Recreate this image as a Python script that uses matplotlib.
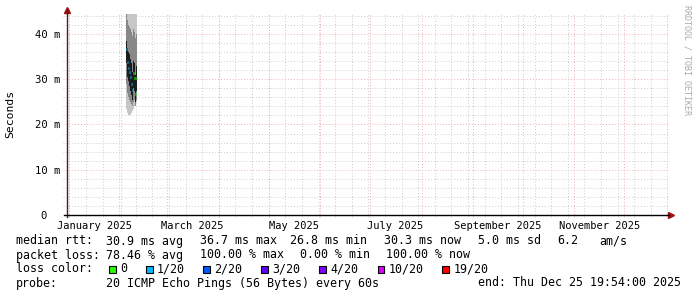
import datetime as dt
import numpy as np
import matplotlib
matplotlib.use('Agg')
import matplotlib.pyplot as plt
from matplotlib.patches import Rectangle

# --- data (12 h consolidated steps, values in ms) ---
times = ['2025-02-04 00:00', '2025-02-04 12:00', '2025-02-05 00:00', '2025-02-05 12:00',
         '2025-02-06 00:00', '2025-02-06 12:00', '2025-02-07 00:00', '2025-02-07 12:00',
         '2025-02-08 00:00', '2025-02-08 12:00', '2025-02-09 00:00', '2025-02-09 12:00',
         '2025-02-10 00:00']
median = [36.7, 35.0, 33.8, 32.5, 31.6, 30.5, 29.0, 28.3, 27.6, 31.3, 30.2, 26.8, 30.3]
loss = [1, 1, 1, 1, 1, 1, 1, 2, 1, 0, 0, 0, 0]
outer_lo = [23.5, 23.0, 22.5, 22.0, 22.0, 22.0, 22.5, 22.5, 23.0, 23.5, 24.0, 24.5, 25.0]
outer_hi = [47.5, 48.0, 47.0, 48.5, 47.0, 46.5, 47.5, 48.0, 46.5, 47.0, 48.0, 47.0, 46.0]
mid_lo = [29.0, 28.0, 27.0, 26.0, 25.5, 25.0, 24.5, 24.0, 24.0, 25.0, 25.5, 24.0, 25.5]
mid_hi = [44.5, 43.5, 43.0, 42.0, 41.5, 41.0, 40.5, 40.0, 39.5, 41.0, 40.5, 39.0, 40.0]
inner_lo = [33.5, 32.0, 30.5, 29.5, 28.5, 27.5, 26.5, 26.0, 25.5, 28.0, 27.5, 25.0, 27.5]
inner_hi = [38.5, 37.5, 37.0, 36.0, 35.5, 34.5, 33.5, 32.5, 31.5, 34.0, 33.5, 31.0, 33.0]

rtt_stats = [30.9, 36.7, 26.8, 30.3]      # avg max min now
rtt_sd = 5.0
rtt_ams = 6.2
loss_stats = [78.46, 100.00, 0.00, 100.00]  # avg max min now
loss_labels = ['0', '1/20', '2/20', '3/20', '4/20', '10/20', '19/20']
loss_colors = ['#26ff00', '#00b8ff', '#0059ff', '#5e00ff', '#7e00ff', '#dd00ff', '#ff0000']
month_labels = ['January 2025', 'March 2025', 'May 2025', 'July 2025',
                'September 2025', 'November 2025']
probe_text = '20 ICMP Echo Pings (56 Bytes) every 60s'
end_text = 'end: Thu Dec 25 19:54:00 2025'

W, H = 697, 297
MONO = 'DejaVu Sans Mono'

def loss_idx(n):
    if n <= 3:
        return n
    if n < 10:
        return 4
    if n < 19:
        return 5
    return 6

t = np.array([np.datetime64(s.replace(' ', 'T')) for s in times]).astype('datetime64[m]').astype(object)
step = dt.timedelta(hours=12)
t_edges = list(t) + [t[-1] + step]

fig = plt.figure(figsize=(W/100, H/100), dpi=100)
ax = fig.add_axes([67/W, 82/H, 602/W, 201/H])
x0 = dt.datetime(2024, 12, 30, 15)
x1 = x0 + dt.timedelta(days=362.3)
ax.set_xlim(x0, x1)
ax.set_ylim(0, 44.4)
for s in ax.spines.values():
    s.set_visible(False)

# grid
minor_c, major_c = '#cccccc', '#f0b0b0'
dots = (0, (1, 2))
for v in range(2, 46, 2):
    if v % 10:
        ax.axhline(v, xmin=-0.006, color=minor_c, lw=0.7, ls=dots, zorder=0.5, clip_on=False)
for v in [10, 20, 30, 40]:
    ax.axhline(v, xmin=-0.006, color=major_c, lw=0.7, ls=dots, zorder=0.6, clip_on=False)
jan1 = dt.datetime(2025, 1, 1)
for k in range(37):
    d = jan1 + dt.timedelta(days=10*k)
    if x0 < d < x1:
        ax.axvline(d, ymin=-0.012, color=minor_c, lw=0.7, ls=dots, zorder=0.5, clip_on=False)
for m in range(1, 13):
    ax.axvline(dt.datetime(2025, m, 1), ymin=-0.012, color=major_c, lw=0.7, ls=dots,
               zorder=0.6, clip_on=False)

# smoke
for lo, hi, c in [(outer_lo, outer_hi, '#c6c6c6'), (mid_lo, mid_hi, '#888888'),
                  (inner_lo, inner_hi, '#1c1c1c')]:
    ax.fill_between(t_edges, lo + [lo[-1]], hi + [hi[-1]], step='post', color=c,
                    lw=0, zorder=2)

# median coloured by loss
ax.hlines(median, t, [ti + step for ti in t],
          colors=[loss_colors[loss_idx(n)] for n in loss], lw=2, zorder=3)

# axes lines with arrows
ax.plot([0, 0], [-0.01, 1.02], transform=ax.transAxes, color='#4a2020', lw=1,
        clip_on=False, zorder=4)
ax.plot([-0.005, 1.0], [0, 0], transform=ax.transAxes, color='black', lw=1,
        clip_on=False, zorder=4)
ax.plot([0], [1.02], marker='^', ms=4, color='#a01010', transform=ax.transAxes, clip_on=False)
ax.plot([1.004], [0], marker='>', ms=4, color='#a01010', transform=ax.transAxes, clip_on=False)

# ticks
label_pos = [dt.datetime(2025, m, 16) for m in [1, 3, 5, 7, 9, 11]]
ax.set_xticks(label_pos)
ax.set_xticklabels(month_labels, family=MONO, fontsize=7.5)
ax.set_yticks([0, 10, 20, 30, 40])
ax.set_yticklabels(['0  ', '10 m', '20 m', '30 m', '40 m'], family=MONO, fontsize=7.6)
ax.tick_params(axis='x', length=0, pad=4)
ax.tick_params(axis='y', length=0, pad=5)

fig.text(10/W, 1 - 114/H, 'Seconds', rotation=90, ha='center', va='center',
         family=MONO, fontsize=8.2)
fig.text(686.5/W, 1 - 5/H, 'RRDTOOL / TOBI OETIKER', rotation=270, ha='center', va='top',
         family=MONO, fontsize=6, color='#aaaaaa')

# legend rows
def txt(x, y, s, ha='left'):
    fig.text(x/W, 1 - y/H, s, ha=ha, va='center', family=MONO, fontsize=8.4)

txt(15.5, 241, 'median rtt:')
txt(106.5, 241, f'{rtt_stats[0]:.1f} ms avg')
txt(200.5, 241, f'{rtt_stats[1]:.1f} ms max')
txt(290.5, 241, f'{rtt_stats[2]:.1f} ms min')
txt(384.5, 241, f'{rtt_stats[3]:.1f} ms now')
txt(478.5, 241, f'{rtt_sd:.1f} ms sd')
txt(557.5, 241, f'{rtt_ams:.1f}')
txt(599.5, 241, 'am/s')

txt(15.5, 255, 'packet loss:')
txt(106.5, 255, f'{loss_stats[0]:.2f} % avg')
txt(200.5, 255, f'{loss_stats[1]:.2f} % max')
txt(300.5, 255, f'{loss_stats[2]:.2f} % min')
txt(386, 255, f'{loss_stats[3]:.2f} % now')

txt(15.5, 269, 'loss color:')
box_x = [109, 146, 203, 261, 319, 377.7, 442.3]
for bx, lab, c in zip(box_x, loss_labels, loss_colors):
    fig.patches.append(Rectangle((bx/W, 1 - 272.5/H), 6.5/W, 6.5/H, transform=fig.transFigure,
                                 facecolor=c, edgecolor='black', lw=0.8))
    txt(bx + 11, 269, lab)

txt(15.5, 283, 'probe:')
txt(106.5, 283, probe_text)
txt(680.5, 283, end_text, ha='right')

fig.savefig('out.png', dpi=100)
